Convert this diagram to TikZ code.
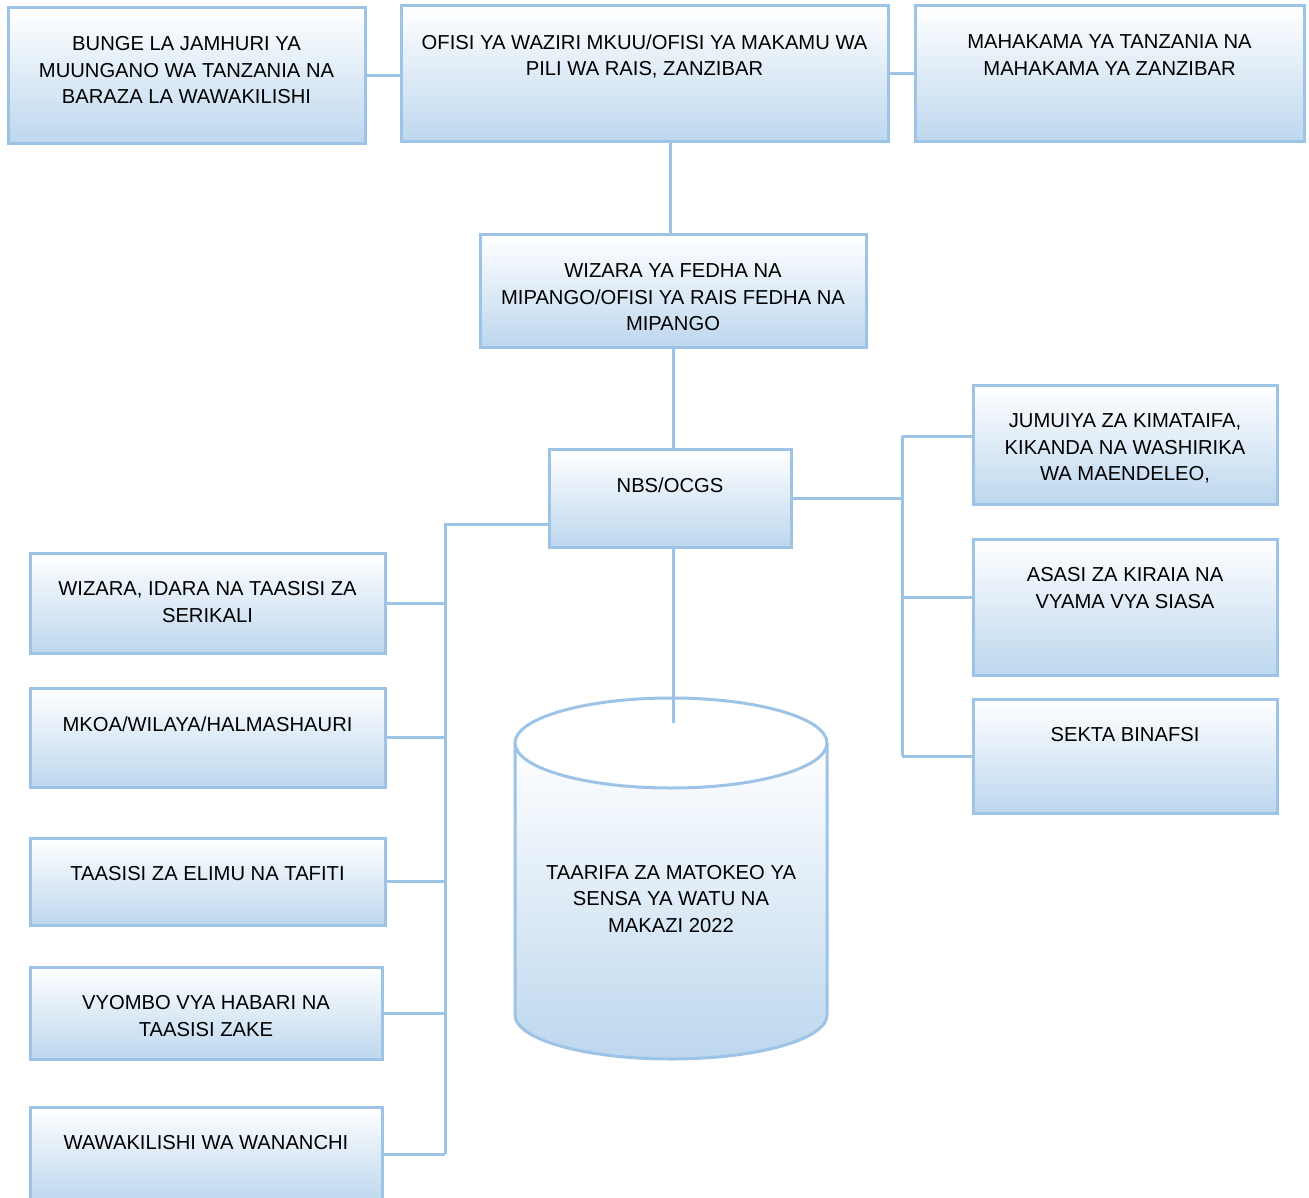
\documentclass[tikz,border=0pt]{standalone}
\usepackage{fontspec}
\setmainfont{Liberation Sans}
\usepackage{tikz}
\usetikzlibrary{positioning}

\definecolor{linkblue}{RGB}{157,195,230}
\definecolor{fillblue}{RGB}{189,215,238}

\tikzset{
  orgbox/.style={draw=linkblue, line width=3pt, top color=white, bottom color=fillblue, inner sep=0pt},
  boxtext/.style={align=center, inner sep=0pt, font=\fontsize{20.2}{26.5}\selectfont},
  link/.style={draw=linkblue, line width=3pt}
}

\begin{document}
\begin{tikzpicture}[x=1pt,y=-1pt]
  \useasboundingbox (0,0) rectangle (1309,1198);

  \node[orgbox, minimum width=357pt, minimum height=136pt] (bunge)    at (186.5,76)  {};
  \node[orgbox, minimum width=487pt, minimum height=136pt] (ofisi)    at (644.5,74)  {};
  \node[orgbox, minimum width=389pt, minimum height=136pt] (mahakama) at (1109.5,74) {};
  \node[orgbox, minimum width=386pt, minimum height=112pt] (fedha)    at (673,291)   {};
  \node[orgbox, minimum width=242pt, minimum height=98pt]  (nbs)      at (670,498)   {};

  \node[orgbox, minimum width=304pt, minimum height=119pt] (jumuiya)  at (1125,444.5) {};
  \node[orgbox, minimum width=304pt, minimum height=136pt] (asasi)    at (1125,607)   {};
  \node[orgbox, minimum width=304pt, minimum height=114pt] (sekta)    at (1125,756)   {};

  \node[orgbox, minimum width=355pt, minimum height=100pt] (serikali) at (207.5,603)   {};
  \node[orgbox, minimum width=355pt, minimum height=99pt]  (mkoa)     at (207.5,737.5) {};
  \node[orgbox, minimum width=355pt, minimum height=87pt]  (elimu)    at (207.5,881.5) {};
  \node[orgbox, minimum width=352pt, minimum height=92pt]  (habari)   at (206,1013)    {};
  \node[orgbox, minimum width=352pt, minimum height=94pt]  (wananchi) at (206,1154)    {};

  \node[boxtext, below=30pt of bunge.north]    (bunge-t)    {BUNGE LA JAMHURI YA\\MUUNGANO WA TANZANIA NA\\BARAZA LA WAWAKILISHI};
  \node[boxtext, below=30pt of ofisi.north]    (ofisi-t)    {OFISI YA WAZIRI MKUU/OFISI YA MAKAMU WA\\PILI WA RAIS, ZANZIBAR};
  \node[boxtext, below=30pt of mahakama.north] (mahakama-t) {MAHAKAMA YA TANZANIA NA\\MAHAKAMA YA ZANZIBAR};
  \node[boxtext, below=30pt of fedha.north]    (fedha-t)    {WIZARA YA FEDHA NA\\MIPANGO/OFISI YA RAIS FEDHA NA\\MIPANGO};
  \node[boxtext, below=30pt of nbs.north]      (nbs-t)      {NBS/OCGS};
  \node[boxtext, below=30pt of jumuiya.north]  (jumuiya-t)  {JUMUIYA ZA KIMATAIFA,\\KIKANDA NA WASHIRIKA\\WA MAENDELEO,};
  \node[boxtext, below=30pt of asasi.north]    (asasi-t)    {ASASI ZA KIRAIA NA\\VYAMA VYA SIASA};
  \node[boxtext, below=30pt of sekta.north]    (sekta-t)    {SEKTA BINAFSI};
  \node[boxtext, below=30pt of serikali.north] (serikali-t) {WIZARA, IDARA NA TAASISI ZA\\SERIKALI};
  \node[boxtext, below=30pt of mkoa.north]     (mkoa-t)     {MKOA/WILAYA/HALMASHAURI};
  \node[boxtext, below=30pt of elimu.north]    (elimu-t)    {TAASISI ZA ELIMU NA TAFITI};
  \node[boxtext, below=30pt of habari.north]   (habari-t)   {VYOMBO VYA HABARI NA\\TAASISI ZAKE};
  \node[boxtext, below=30pt of wananchi.north] (wananchi-t) {WAWAKILISHI WA WANANCHI};

  % census report store
  \fill[top color=white, bottom color=fillblue] (515,743) -- (515,1015)
    arc[start angle=180, end angle=0, x radius=156, y radius=44] -- (827,743) -- cycle;
  \fill[white] (671,743) ellipse[x radius=156, y radius=45];
  \draw[link] (515,743) -- (515,1015)
    arc[start angle=180, end angle=0, x radius=156, y radius=44] -- (827,743);
  \draw[link] (671,743) ellipse[x radius=156, y radius=45];
  \node[boxtext] (census) at (671,899) {TAARIFA ZA MATOKEO YA\\SENSA YA WATU NA\\MAKAZI 2022};
  \coordinate (storetop) at (673,723);

  \coordinate (ltrunk) at (445,524);
  \coordinate (rtrunk) at (902,436);

  \draw[link] (bunge.east) -- (bunge.east -| ofisi.west);
  \draw[link] (ofisi.east) -- (mahakama.west);
  \draw[link] ([xshift=-3pt]fedha.north |- ofisi.south) -- ([xshift=-3pt]fedha.north);
  \draw[link] (fedha.south) -- (fedha.south |- nbs.north);
  \draw[link] (storetop |- nbs.south) -- (storetop);

  \draw[link] (ltrunk -| nbs.west) -- (ltrunk) -- (ltrunk |- wananchi.east);
  \foreach \b in {serikali,mkoa,elimu,habari,wananchi}
    \draw[link] (\b.east) -- (\b.east -| ltrunk);

  \draw[link] (nbs.east) -- (nbs.east -| rtrunk);
  \draw[link] (rtrunk) -- (rtrunk |- sekta.west);
  \draw[link] ([yshift=8pt]jumuiya.west) -- ([yshift=8pt]jumuiya.west -| rtrunk);
  \draw[link] ([yshift=10pt]asasi.west) -- ([yshift=10pt]asasi.west -| rtrunk);
  \draw[link] (sekta.west) -- (sekta.west -| rtrunk);
\end{tikzpicture}
\end{document}
